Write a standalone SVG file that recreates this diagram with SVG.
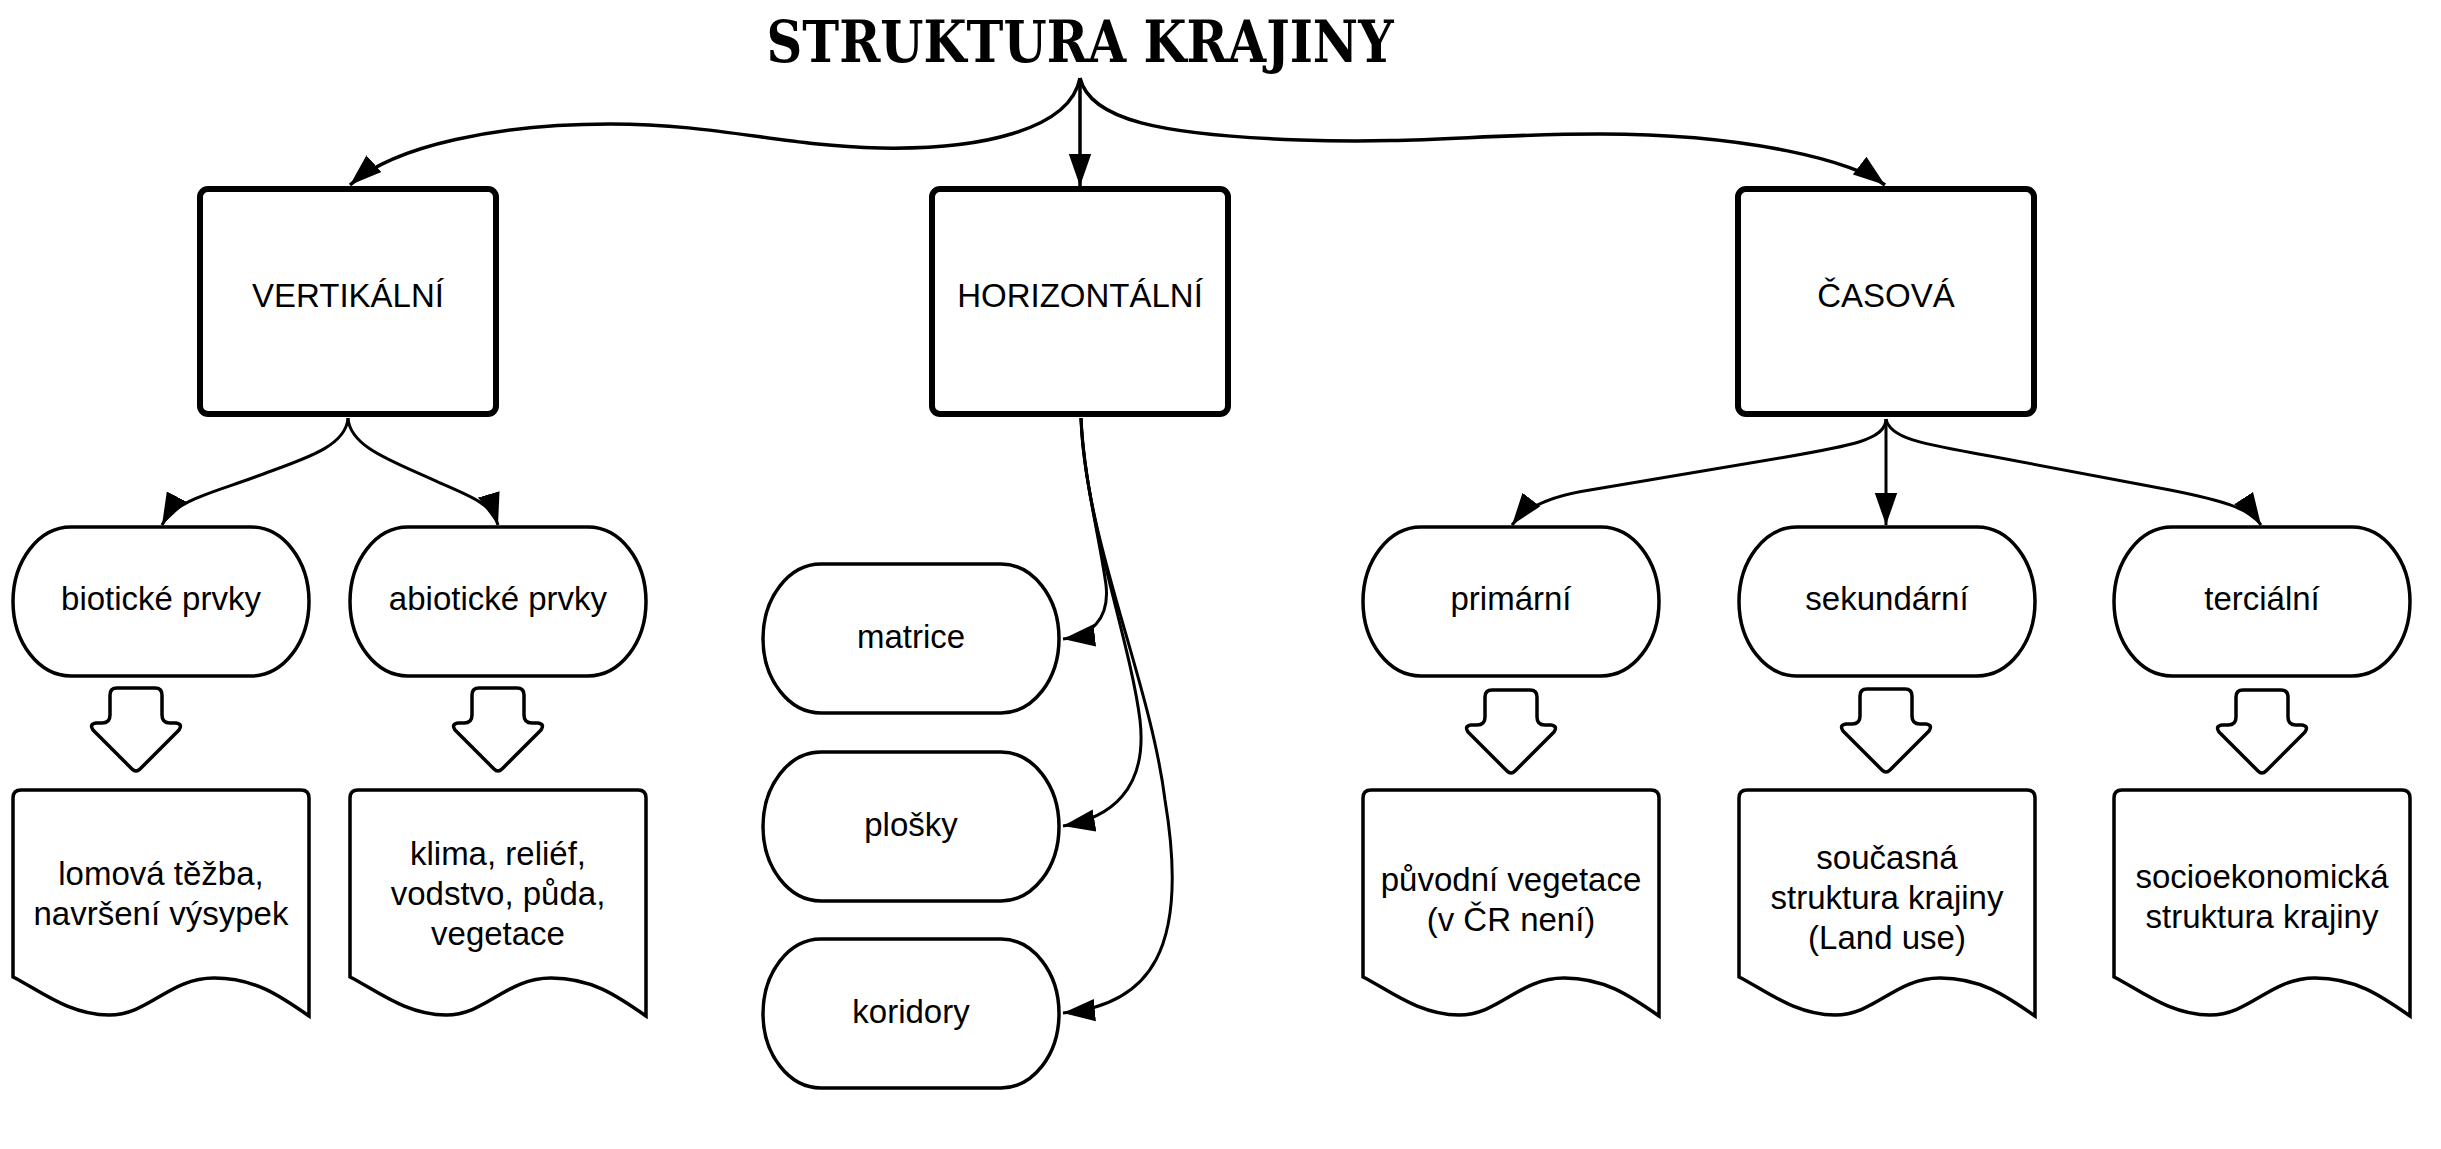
<svg xmlns="http://www.w3.org/2000/svg" width="2441" height="1149" viewBox="0 0 2441 1149">
<style>
.bg{fill:#ffffff}
.box{fill:#ffffff;stroke:#000;stroke-width:6}
.node{fill:#ffffff;stroke:#000;stroke-width:3.5}
.barrow{fill:#ffffff;stroke:#000;stroke-width:3.5;stroke-linejoin:round}
.conn{fill:none;stroke:#000;stroke-width:3}
.conn-t{fill:none;stroke:#000;stroke-width:3.5}
.lbl{font-family:"Liberation Sans",Arial,sans-serif;font-size:33px;fill:#000;text-anchor:middle}
.title{font-family:"DejaVu Serif",serif;font-weight:bold;font-size:57px;fill:#000;text-anchor:middle}
</style>
<defs>
<marker id="ah" markerUnits="userSpaceOnUse" markerWidth="32" markerHeight="24" refX="30" refY="10.5" orient="auto" viewBox="0 0 30 21">
<path d="M0,0 L30,10.5 L0,21 Z" fill="#000"/>
</marker>
</defs>
<rect class="bg" x="0" y="0" width="2441" height="1149"/>

<g id="title">
<text class="title" x="1080" y="62" textLength="627" lengthAdjust="spacingAndGlyphs">STRUKTURA KRAJINY</text>
</g>

<g id="connectors">
<path class="conn-t" marker-end="url(#ah)" d="M1080,78 C1070,130 980,150 880,148 C780,146 720,124 610,124 C500,124 395,145 350,185"/>
<path class="conn-t" marker-end="url(#ah)" d="M1080,78 L1080,186"/>
<path class="conn-t" marker-end="url(#ah)" d="M1080,78 C1090,120 1160,135 1300,140 C1420,144 1480,134 1600,134 C1750,134 1855,162 1885,185"/>
<path class="conn" marker-end="url(#ah)" d="M348,418 C346,448 300,460 255,477 C215,492 175,500 162,525"/>
<path class="conn" marker-end="url(#ah)" d="M348,418 C350,448 395,462 440,483 C475,498 492,505 498,525"/>
<path class="conn" marker-end="url(#ah)" d="M1081,418 C1084,480 1100,540 1106,585 C1110,620 1090,636 1063,639"/>
<path class="conn" marker-end="url(#ah)" d="M1081,418 C1085,520 1130,640 1140,720 C1148,790 1110,818 1063,826"/>
<path class="conn" marker-end="url(#ah)" d="M1081,418 C1085,540 1150,680 1165,800 C1190,950 1150,1005 1063,1013"/>
<path class="conn" marker-end="url(#ah)" d="M1886,419 C1886,440 1850,446 1780,458 L1590,490 C1550,496 1525,508 1512,525"/>
<path class="conn" marker-end="url(#ah)" d="M1886,419 L1886,525"/>
<path class="conn" marker-end="url(#ah)" d="M1886,419 C1890,440 1930,445 1990,456 L2170,490 C2220,500 2250,508 2261,525"/>
</g>

<g id="vertikalni">
<rect class="box" x="200" y="189" width="296" height="225" rx="8"/>
<text class="lbl" x="348" y="307">VERTIKÁLNÍ</text>
</g>
<g id="horizontalni">
<rect class="box" x="932" y="189" width="296" height="225" rx="8"/>
<text class="lbl" x="1080" y="307">HORIZONTÁLNÍ</text>
</g>
<g id="casova">
<rect class="box" x="1738" y="189" width="296" height="225" rx="8"/>
<text class="lbl" x="1886" y="307">ČASOVÁ</text>
</g>

<g id="biotic">
<rect class="node" x="13" y="527" width="296" height="149" rx="58" ry="74.5"/>
<text class="lbl" x="161" y="610">biotické prvky</text>
</g>
<g id="abiotic">
<rect class="node" x="350" y="527" width="296" height="149" rx="58" ry="74.5"/>
<text class="lbl" x="498" y="610">abiotické prvky</text>
</g>
<g id="matrice">
<rect class="node" x="763" y="564" width="296" height="149" rx="58" ry="74.5"/>
<text class="lbl" x="911" y="648">matrice</text>
</g>
<g id="plosky">
<rect class="node" x="763" y="752" width="296" height="149" rx="58" ry="74.5"/>
<text class="lbl" x="911" y="836">plošky</text>
</g>
<g id="koridory">
<rect class="node" x="763" y="939" width="296" height="149" rx="58" ry="74.5"/>
<text class="lbl" x="911" y="1023">koridory</text>
</g>
<g id="primarni">
<rect class="node" x="1363" y="527" width="296" height="149" rx="58" ry="74.5"/>
<text class="lbl" x="1511" y="610">primární</text>
</g>
<g id="sekundarni">
<rect class="node" x="1739" y="527" width="296" height="149" rx="58" ry="74.5"/>
<text class="lbl" x="1887" y="610">sekundární</text>
</g>
<g id="tercialni">
<rect class="node" x="2114" y="527" width="296" height="149" rx="58" ry="74.5"/>
<text class="lbl" x="2262" y="610">terciální</text>
</g>

<g id="barrow-biotic">
<path class="barrow" d="M110,695 Q110,688 117,688 L155,688 Q162,688 162,695 L162,715 Q162,723 170,723 L176,723 Q183,724 179,730 L140,769 Q136,773 132,769 L93,730 Q89,724 96,723 L102,723 Q110,723 110,715 Z"/>
</g>
<g id="barrow-abiotic">
<path class="barrow" d="M472,695 Q472,688 479,688 L517,688 Q524,688 524,695 L524,715 Q524,723 532,723 L538,723 Q545,724 541,730 L502,769 Q498,773 494,769 L455,730 Q451,724 458,723 L464,723 Q472,723 472,715 Z"/>
</g>
<g id="barrow-primarni">
<path class="barrow" d="M1485,697 Q1485,690 1492,690 L1530,690 Q1537,690 1537,697 L1537,717 Q1537,725 1545,725 L1551,725 Q1558,726 1554,732 L1515,771 Q1511,775 1507,771 L1468,732 Q1464,726 1471,725 L1477,725 Q1485,725 1485,717 Z"/>
</g>
<g id="barrow-sekundarni">
<path class="barrow" d="M1860,696 Q1860,689 1867,689 L1905,689 Q1912,689 1912,696 L1912,716 Q1912,724 1920,724 L1926,724 Q1933,725 1929,731 L1890,770 Q1886,774 1882,770 L1843,731 Q1839,725 1846,724 L1852,724 Q1860,724 1860,716 Z"/>
</g>
<g id="barrow-tercialni">
<path class="barrow" d="M2236,697 Q2236,690 2243,690 L2281,690 Q2288,690 2288,697 L2288,717 Q2288,725 2296,725 L2302,725 Q2309,726 2305,732 L2266,771 Q2262,775 2258,771 L2219,732 Q2215,726 2222,725 L2228,725 Q2236,725 2236,717 Z"/>
</g>

<g id="doc-lomova">
<path class="node" d="M13,977 L13,798 Q13,790 21,790 L301,790 Q309,790 309,798 L309,1016 C279,995 254,978 214,978 C169,978 149,1015 109,1015 C69,1015 39,990 13,977 Z"/>
<text class="lbl" x="161" y="885">lomová těžba,</text>
<text class="lbl" x="161" y="925">navršení výsypek</text>
</g>
<g id="doc-klima">
<path class="node" d="M350,977 L350,798 Q350,790 358,790 L638,790 Q646,790 646,798 L646,1016 C616,995 591,978 551,978 C506,978 486,1015 446,1015 C406,1015 376,990 350,977 Z"/>
<text class="lbl" x="498" y="865">klima, reliéf,</text>
<text class="lbl" x="498" y="905">vodstvo, půda,</text>
<text class="lbl" x="498" y="945">vegetace</text>
</g>
<g id="doc-puvodni">
<path class="node" d="M1363,977 L1363,798 Q1363,790 1371,790 L1651,790 Q1659,790 1659,798 L1659,1016 C1629,995 1604,978 1564,978 C1519,978 1499,1015 1459,1015 C1419,1015 1389,990 1363,977 Z"/>
<text class="lbl" x="1511" y="891">původní vegetace</text>
<text class="lbl" x="1511" y="931">(v ČR není)</text>
</g>
<g id="doc-soucasna">
<path class="node" d="M1739,977 L1739,798 Q1739,790 1747,790 L2027,790 Q2035,790 2035,798 L2035,1016 C2005,995 1980,978 1940,978 C1895,978 1875,1015 1835,1015 C1795,1015 1765,990 1739,977 Z"/>
<text class="lbl" x="1887" y="869">současná</text>
<text class="lbl" x="1887" y="909">struktura krajiny</text>
<text class="lbl" x="1887" y="949">(Land use)</text>
</g>
<g id="doc-socio">
<path class="node" d="M2114,977 L2114,798 Q2114,790 2122,790 L2402,790 Q2410,790 2410,798 L2410,1016 C2380,995 2355,978 2315,978 C2270,978 2250,1015 2210,1015 C2170,1015 2140,990 2114,977 Z"/>
<text class="lbl" x="2262" y="888">socioekonomická</text>
<text class="lbl" x="2262" y="928">struktura krajiny</text>
</g>
</svg>
